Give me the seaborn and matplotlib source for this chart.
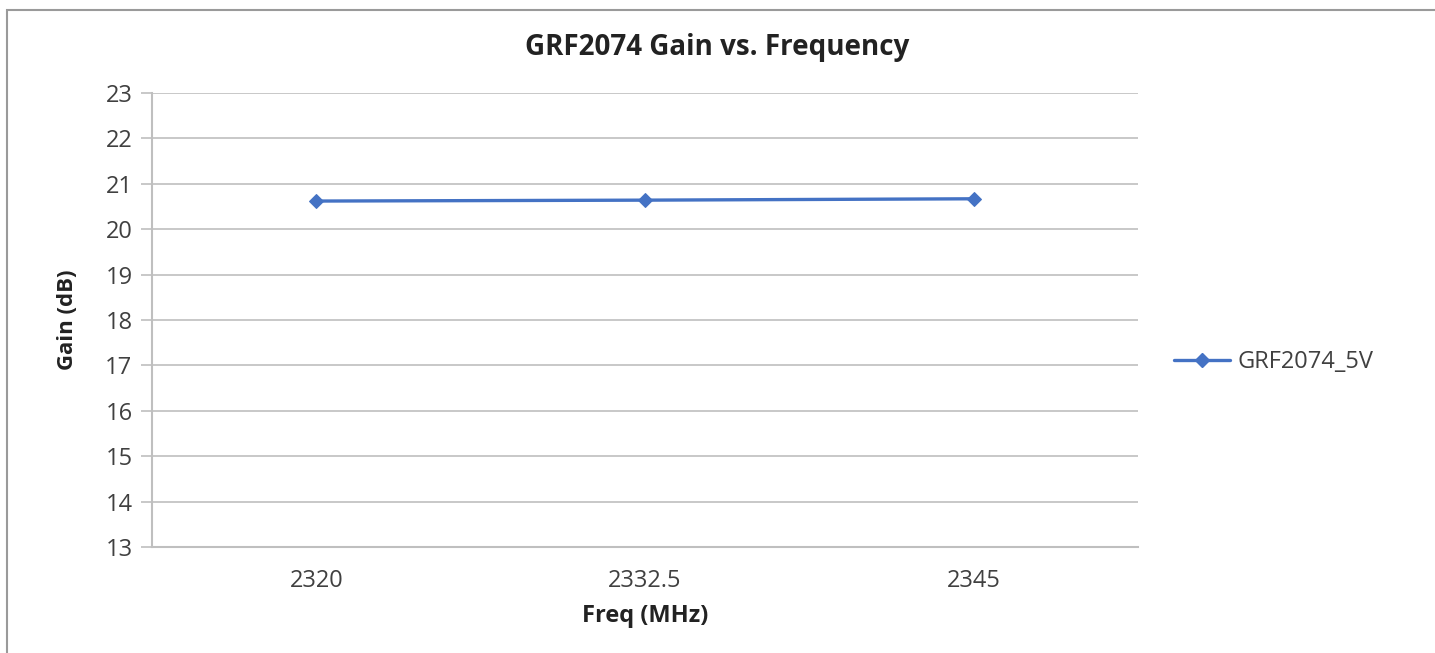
import pandas as pd
import matplotlib
matplotlib.use('Agg')
import matplotlib.pyplot as plt
import seaborn as sns
from matplotlib.patches import Rectangle

# data
freq_labels = ['2320', '2332.5', '2345']
gain_db = [20.62, 20.64, 20.67]
series_name = 'GRF2074_5V'

sns.set_style('white')
plt.rcParams['font.family'] = ['Open Sans', 'DejaVu Sans']

df = pd.DataFrame({'freq': freq_labels, 'gain': gain_db, 'series': series_name})

fig = plt.figure(figsize=(14.35, 6.53), dpi=100)
ax = fig.add_axes([152 / 1435, 1 - 547 / 653, (1138 - 152) / 1435, (547 - 93) / 653])

line_color = '#4472C4'
grid_color = '#BFBFBF'

sns.lineplot(data=df, x='freq', y='gain', hue='series', palette=[line_color],
             marker='D', markersize=7, linewidth=2.4, markeredgecolor=line_color,
             sort=False, ax=ax, legend=False)

ax.set_xlim(-0.5, len(freq_labels) - 0.5)
ax.set_ylim(13, 23)
ax.set_yticks(range(13, 24))
ax.grid(axis='y', color=grid_color, linewidth=1.2)
ax.set_axisbelow(True)

for s in ['top', 'right']:
    ax.spines[s].set_visible(False)
for s in ['left', 'bottom']:
    ax.spines[s].set_color(grid_color)
    ax.spines[s].set_linewidth(1.5)

ax.tick_params(axis='y', length=8, width=1.2, color=grid_color, labelsize=17,
               labelcolor='#404040', left=True, pad=6)
ax.tick_params(axis='x', length=0, labelsize=17, labelcolor='#404040', pad=16)

ax.set_xlabel('Freq (MHz)', fontsize=17, fontweight='bold', color='#222222', labelpad=8)
ax.set_ylabel('Gain (dB)', fontsize=16, fontweight='bold', color='#222222', labelpad=20)
fig.text(0.5, 1 - 47 / 653, 'GRF2074 Gain vs. Frequency', ha='center', va='center',
         fontsize=20, fontweight='bold', color='#222222')

handle = plt.Line2D([], [], color=line_color, marker='D', markersize=7, linewidth=2.4)
fig.legend([handle], [series_name], loc='center left', bbox_to_anchor=(0.818, 1 - 362 / 653),
           frameon=False, fontsize=17, handlelength=2.4, handletextpad=0.3,
           labelcolor='#404040', borderaxespad=0, borderpad=0)

# outer chart border
fig.patches.append(Rectangle((7 / 1435, -0.01), 1.01, 1 - 10 / 653 + 0.01,
                             transform=fig.transFigure, fill=False,
                             edgecolor='#9a9a9a', linewidth=1.5))

fig.savefig('out.png', dpi=100)
